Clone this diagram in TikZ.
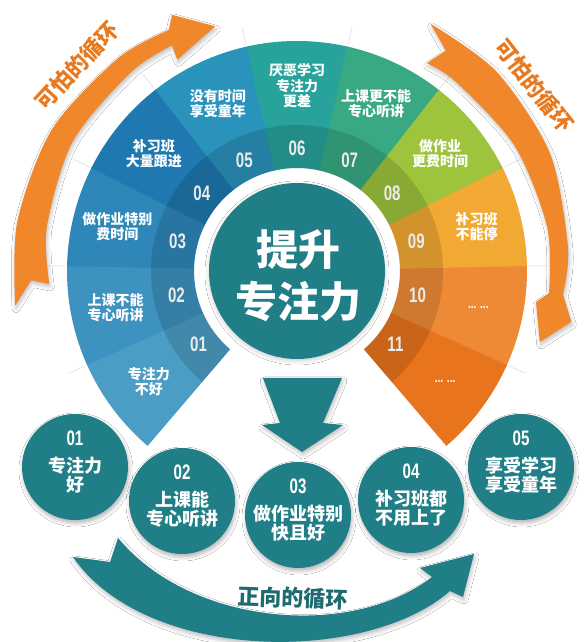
\documentclass[tikz,border=0pt]{standalone}
\usepackage{fontspec}
\setmainfont{Noto Sans CJK SC}
\newfontfamily\numfont{Liberation Sans}[FakeStretch=0.72]
\usetikzlibrary{shadows.blur}
\definecolor{s1}{HTML}{4C9DC5}
\definecolor{s2}{HTML}{3D92C0}
\definecolor{s3}{HTML}{2F87B9}
\definecolor{s4}{HTML}{1F78AF}
\definecolor{s5}{HTML}{2A93BB}
\definecolor{s6}{HTML}{28A39C}
\definecolor{s7}{HTML}{38A982}
\definecolor{s8}{HTML}{9DC43C}
\definecolor{s9}{HTML}{F2A934}
\definecolor{s10}{HTML}{EE8A36}
\definecolor{s11}{HTML}{E8741D}
\definecolor{tealc}{HTML}{1F7E86}
\definecolor{tealtext}{HTML}{1D6B70}
\definecolor{acol}{HTML}{F0872A}
\definecolor{acoltext}{HTML}{E8791F}
\tikzset{
  seglab/.style={align=center,text=white,inner sep=0pt,font=\bfseries\fontsize{14}{15.5}\selectfont},
  segnum/.style={text=white!92!black,inner sep=0pt,font=\numfont\bfseries\fontsize{21}{21}\selectfont},
  bcirc/.style={circle,fill=tealc,minimum size=106pt,inner sep=0pt,
    blur shadow={shadow xshift=1pt,shadow yshift=-3pt,shadow blur radius=4pt,shadow opacity=30}},
  bnum/.style={text=white,inner sep=0pt,font=\numfont\bfseries\fontsize{21}{21}\selectfont},
  btext/.style={align=center,text=white,inner sep=0pt,font=\bfseries\fontsize{18}{18.5}\selectfont},
  looptext/.style={text=acoltext,inner sep=0pt,font=\bfseries\fontsize{22}{22}\selectfont},
  arrowshadow/.style={blur shadow={shadow xshift=1pt,shadow yshift=-3pt,shadow blur radius=4pt,shadow opacity=25}}
}
\begin{document}
\begin{tikzpicture}[x=1pt,y=1pt]
\useasboundingbox (0,0) rectangle (587,642);
\fill[white] (0,0) rectangle (587,642);
\coordinate (C) at (297,371);

\begin{scope}[shift={(C)}]
  % faint radial lines beyond the fan
  \foreach \k in {1,...,10}{
    \pgfmathsetmacro\ba{229.5-\k*25.3636}
    \draw[black!9,line width=1pt] (\ba:232pt) -- (\ba:250pt);
  }
  % fan segments
  \foreach \i/\col in {1/s1,2/s2,3/s3,4/s4,5/s5,6/s6,7/s7,8/s8,9/s9,10/s10,11/s11}{
    \pgfmathsetmacro\sa{229.5-(\i-1)*25.3636}
    \pgfmathsetmacro\sb{\sa-25.3636-(\i<11)*0.4}
    \fill[\col] (\sa:230pt) arc[start angle=\sa,end angle=\sb,radius=230pt]
      -- (\sb:103pt) arc[start angle=\sb,end angle=\sa,radius=103pt] -- cycle;
  }
  % darker number band
  \fill[black,opacity=0.13] (229.5:146pt) arc[start angle=229.5,end angle=-49.5,radius=146pt]
    -- (-49.5:103pt) arc[start angle=-49.5,end angle=229.5,radius=103pt] -- cycle;
  % labels
  \foreach \i/\lbl in {1/{专注力\\不好},2/{上课不能\\专心听讲},3/{做作业特别\\费时间},4/{补习班\\大量跟进},5/{没有时间\\享受童年},6/{厌恶学习\\专注力\\更差},7/{上课更不能\\专心听讲},8/{做作业\\更费时间},9/{补习班\\不能停},10/{\numfont ... ...},11/{\numfont ... ...}}{
    \pgfmathsetmacro\m{229.5-(\i-0.5)*25.3636}
    \node[seglab] (lab\i) at (\m:185pt) {\lbl};
    \node[segnum] (num\i) at (\m:123pt) {\ifnum\i<10 0\fi\i};
  }

  % left orange arrow
  \fill[acol,arrowshadow] (187:284pt) -- (182:266pt) -- (183:248pt)
    -- plot[smooth] coordinates {(183:248pt) (170:254pt) (150:259pt) (130:259pt) (119:258pt)}
    -- (119.5:243pt) -- (108.5:258pt) -- (116:285pt) -- (118:273pt)
    -- plot[smooth] coordinates {(118:273pt) (130:278pt) (150:283pt) (170:284pt) (187:284pt)} -- cycle;
  % right orange arrow
  \fill[acol,arrowshadow] (61.6:281pt)
    -- plot[smooth] coordinates {(61.6:281pt) (45:282pt) (25:279pt) (5:272pt) (-5:267pt)}
    -- (-10.5:279pt) -- (-16.3:253pt) -- (-7.4:241pt) -- (-5:253pt)
    -- plot[smooth] coordinates {(-5:253pt) (10:254pt) (30:251pt) (50:247pt) (58:245pt)}
    -- (56:266pt) -- cycle;
  \node[looptext,rotate=47] (loopL) at (137:301pt) {可怕的循环};
  \node[looptext,rotate=-52] (loopR) at (38:301pt) {可怕的循环};
\end{scope}

% center circle
\fill[white] (C) circle (101pt);
\node[circle,fill=tealc,minimum size=176pt,inner sep=0pt,
  blur shadow={shadow xshift=0pt,shadow yshift=-2pt,shadow blur radius=4pt,shadow opacity=20}] (center) at (C) {};
\node[align=center,text=white,inner sep=0pt,font=\bfseries\fontsize{42}{52}\selectfont] (ctext) at (298,366) {提升\\专注力};

% down arrow
\fill[tealc,arrowshadow] (263,264) -- (342,264) -- (323,219) -- (343,217) -- (302,190) -- (262,217) -- (280,219) -- cycle;

% bottom circles
\foreach \n/\x/\y/\lbl in {01/75/175/{专注力\\好},02/182/141/{上课能\\专心听讲},03/298/127/{做作业特别\\快且好},04/411/142/{补习班都\\不用上了},05/521/175/{享受学习\\享受童年}}{
  \node[bcirc] (b\n) at (\x,\y) {};
  \node[bnum] (bn\n) at (\x,\y+29) {\n};
  \node[btext] (bt\n) at (\x,\y-8) {\lbl};
}

% bottom curved arrow
\fill[tealc,arrowshadow] (118,104) -- (110,80) -- (73,85)
  .. controls (145,-20) and (365,-23) .. (450,51)
  -- (463,45) -- (474,88) -- (420,74) -- (432,65)
  .. controls (350,2) and (190,17) .. (118,104) -- cycle;
\node[text=tealtext,inner sep=0pt,rotate=-2,font=\bfseries\fontsize{22}{22}\selectfont] (ztext) at (293,44) {正向的循环};
\end{tikzpicture}
\end{document}
